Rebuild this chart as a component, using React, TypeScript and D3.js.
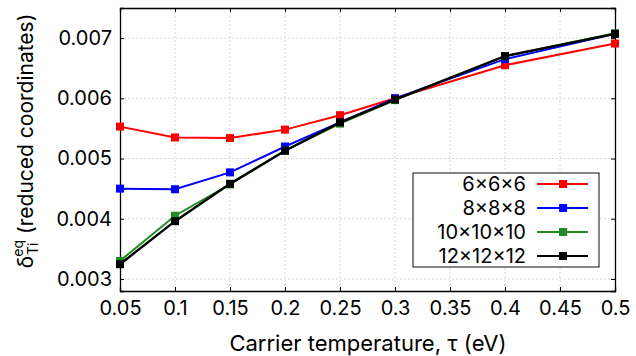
import { useEffect, useRef } from "react"
import * as d3 from "d3"

const temps = [0.05, 0.1, 0.15, 0.2, 0.25, 0.3, 0.4, 0.5]
const grid6 = [0.00553, 0.00535, 0.00534, 0.00548, 0.00572, 0.006, 0.00655, 0.00691]
const grid8 = [0.0045, 0.00449, 0.00477, 0.0052, 0.0056, 0.006, 0.00665, 0.00707]
const grid10 = [0.0033, 0.00405, 0.00457, 0.00513, 0.00558, 0.00597, 0.0067, 0.00708]
const grid12 = [0.003245, 0.00396, 0.00458, 0.00513, 0.0056, 0.00598, 0.0067, 0.00707]
const seriesNames = ["6×6×6", "8×8×8", "10×10×10", "12×12×12"]
const seriesColors = ["#ff0000", "#0000ff", "#228b22", "#000000"]
const xTicks = [0.05, 0.1, 0.15, 0.2, 0.25, 0.3, 0.35, 0.4, 0.45, 0.5]
const yTicks = [0.003, 0.004, 0.005, 0.006, 0.007]

export default function App() {
  const ref = useRef<SVGSVGElement>(null)

  useEffect(() => {
    const svg = d3.select(ref.current)
    svg.selectAll("*").remove()

    const W = 636, H = 356
    const m = { top: 8, right: 21, bottom: 65, left: 120 }
    const width = W - m.left - m.right
    const height = H - m.top - m.bottom
    const font = "Inter, sans-serif"

    const x = d3.scaleLinear().domain([0.05, 0.5]).range([0, width])
    const y = d3.scaleLinear().domain([0.0028, 0.0075]).range([height, 0])

    const g = svg.append("g").attr("transform", `translate(${m.left},${m.top})`)

    // grid
    g.append("g").selectAll("line").data(xTicks.slice(1, -1)).enter().append("line")
      .attr("x1", d => x(d)).attr("x2", d => x(d)).attr("y1", 0).attr("y2", height)
      .attr("stroke", "#d8d8d8").attr("stroke-dasharray", "2,2").attr("stroke-width", 1)
    g.append("g").selectAll("line").data(yTicks).enter().append("line")
      .attr("y1", d => y(d)).attr("y2", d => y(d)).attr("x1", 0).attr("x2", width)
      .attr("stroke", "#d8d8d8").attr("stroke-dasharray", "2,2").attr("stroke-width", 1)

    // axes with inward ticks
    const bottom = g.append("g").attr("transform", `translate(0,${height})`)
      .call(d3.axisBottom(x).tickValues(xTicks).tickSize(-4).tickPadding(10).tickFormat(d => String(d)))
    const top = g.append("g").call(d3.axisTop(x).tickValues(xTicks).tickSize(-4).tickFormat(() => ""))
    const left = g.append("g")
      .call(d3.axisLeft(y).tickValues(yTicks).tickSize(-4).tickPadding(8).tickFormat(d => d3.format(".3f")(d as number)))
    const right = g.append("g").attr("transform", `translate(${width},0)`)
      .call(d3.axisRight(y).tickValues(yTicks).tickSize(-4).tickFormat(() => ""))
    ;[bottom, top, left, right].forEach(a => {
      a.select(".domain").attr("stroke", "#000").attr("stroke-width", 1.3)
      a.selectAll(".tick line").attr("stroke", "#000")
      a.selectAll("text").attr("font-family", font).attr("font-size", 20).attr("fill", "#000")
    })

    // series
    const all = [grid6, grid8, grid10, grid12]
    const line = d3.line<number>().x((_, i) => x(temps[i])).y(d => y(d))
    all.forEach((vals, k) => {
      g.append("path").datum(vals).attr("d", line).attr("fill", "none")
        .attr("stroke", seriesColors[k]).attr("stroke-width", k === 3 ? 2.4 : 2)
      g.append("g").selectAll("rect").data(vals).enter().append("rect")
        .attr("x", (_, i) => x(temps[i]) - 4).attr("y", d => y(d) - 4)
        .attr("width", 8).attr("height", 8).attr("fill", seriesColors[k])
    })

    // legend
    const lg = svg.append("g")
    lg.append("rect").attr("x", 413).attr("y", 173).attr("width", 186).attr("height", 94)
      .attr("fill", "#fff").attr("stroke", "#333").attr("stroke-width", 1.2)
    seriesNames.forEach((name, k) => {
      const cy = 184 + k * 24
      lg.append("text").attr("x", 526).attr("y", cy).attr("dy", "0.36em")
        .attr("text-anchor", "end").attr("font-family", font).attr("font-size", 20).text(name)
      lg.append("line").attr("x1", 537).attr("x2", 588).attr("y1", cy).attr("y2", cy)
        .attr("stroke", seriesColors[k]).attr("stroke-width", 2)
      lg.append("rect").attr("x", 559).attr("y", cy - 4).attr("width", 8).attr("height", 8)
        .attr("fill", seriesColors[k])
    })

    // axis labels
    svg.append("text").attr("x", 368).attr("y", 351)
      .attr("text-anchor", "middle").attr("font-family", font).attr("font-size", 22)
      .text("Carrier temperature, τ (eV)")

    const yl = svg.append("text").attr("transform", "translate(33,141) rotate(-90)")
      .attr("text-anchor", "middle").attr("font-family", font).attr("font-size", 21)
    yl.append("tspan").text("δ")
    yl.append("tspan").attr("font-size", 14).attr("dy", 5).attr("dx", 1).text("Ti")
    yl.append("tspan").attr("font-size", 14).attr("dy", -15).attr("dx", -14).text("eq")
    yl.append("tspan").attr("dy", 10).attr("dx", 6).text("(reduced coordinates)")
  }, [])

  return (
    <div style={{ position: "fixed", top: 0, left: 0, width: 636, height: 356, overflow: "hidden" }}>
      <svg ref={ref} width={636} height={356} style={{ display: "block", background: "#fff" }} />
    </div>
  )
}
